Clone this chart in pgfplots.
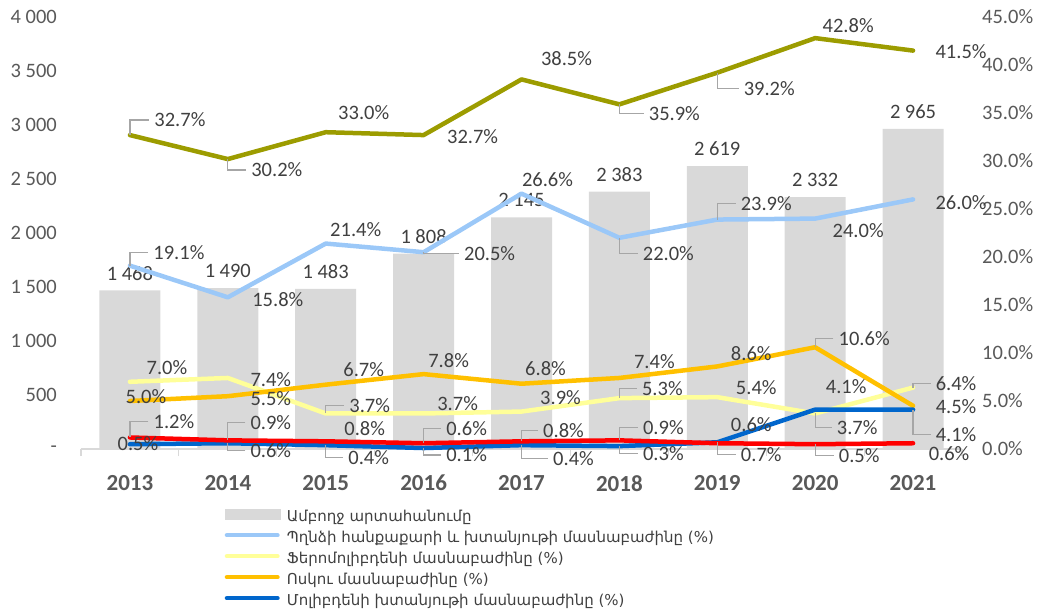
\documentclass[border=0pt]{standalone}
\usepackage{pgfplots}
\pgfplotsset{compat=1.18}
\usepackage{pgfplotstable}
\usepackage{fontspec}
\setmainfont{Carlito}
\newfontfamily\armfont{DejaVu Sans}

\definecolor{bargray}{HTML}{D9D9D9}
\definecolor{cOlive}{HTML}{9C9C00}
\definecolor{cLB}{HTML}{9BC8F8}
\definecolor{cYel}{HTML}{FFFF99}
\definecolor{cOra}{HTML}{FFC000}
\definecolor{cBlue}{HTML}{0066CC}
\definecolor{cRed}{HTML}{FF0000}
\definecolor{lbltext}{HTML}{404040}
\definecolor{tickgray}{HTML}{595959}
\definecolor{axgray}{HTML}{D9D9D9}
\definecolor{leadgray}{HTML}{A6A6A6}

\pgfplotstableread{
x y
0 1468
1 1490
2 1483
3 1808
4 2145
5 2383
6 2619
7 2332
8 2965
}\tBar

\pgfplotstableread{
x y dx dy ld
0 32.7 50 15 1
1 30.2 49 -11 1
2 33.0 38 20 0
3 32.7 49 -2 0
4 38.5 45 21 0
5 35.9 55 -9 1
6 39.2 52 -16 1
7 42.8 33 13 0
8 41.5 48 -1 0
}\tOlive

\pgfplotstableread{
x y dx dy ld
0 19.1 49 13 1
1 15.8 50 -2 0
2 21.4 30 14 0
3 20.5 66 -1 1
4 26.6 26 14 0
5 22.0 49 -16 1
6 23.9 49 16 1
7 24.0 43 -12 0
8 26.0 48 -3 0
}\tLB

\pgfplotstableread{
x y dx dy ld
0 7.0 37 14 0
1 7.4 43 -2 0
2 3.7 44 8 1
3 3.7 34 10 0
4 3.9 39 14 0
5 5.3 43 10 1
6 5.4 39 10 0
7 3.7 42 -14 1
8 6.4 43 4 1
}\tYel

\pgfplotstableread{
x y dx dy ld
0 5.0 16 4 0
1 5.5 43 -2 0
2 6.7 38 15 0
3 7.8 25 14 0
4 6.8 24 15 0
5 7.4 35 16 0
6 8.6 34 13 0
7 10.6 49 9 1
8 4.5 43 -1 0
}\tOra

\pgfplotstableread{
x y dx dy ld
0 0.5 8 1 0
1 0.6 43 -7 1
2 0.4 43 -12 1
3 0.1 43 -7 1
4 0.4 52 -13 1
5 0.3 44 -7 1
6 0.7 44 -12 1
7 4.1 31 23 0
8 4.1 43 -25 1
}\tBlue

\pgfplotstableread{
x y dx dy ld
0 1.2 44 16 1
1 0.9 43 18 1
2 0.8 39 13 0
3 0.6 43 15 1
4 0.8 42 11 1
5 0.9 44 13 1
6 0.6 34 19 0
7 0.5 44 -11 1
8 0.6 36 -10 0
}\tRed

\newcommand\lblfont{\fontsize{20.5}{21}\selectfont}

\tikzset{
  leadr/.code={%
    \edef\lbltmp{\noexpand\tikzset{append after command={([xshift=-5pt]\noexpand\tikzlastnode.west) edge[draw=leadgray, line width=1.2pt, draw opacity=\lblLD, to path={-| (\noexpand\tikztotarget)}] ([xshift={-1*(\lblDX)*1pt}, yshift={-1*(\lblDY)*1pt}]\noexpand\tikzlastnode.center)}}}%
    \lbltmp},
}

\pgfplotsset{
  /pgf/number format/assume math mode=true,
  ser/.style={line width=4.5pt, line join=round, line cap=round, mark=none},
  lbl/.style={draw=none, forget plot, mark=none,
    visualization depends on={\thisrow{dx}\as\lblDX},
    visualization depends on={\thisrow{dy}\as\lblDY},
    visualization depends on={\thisrow{ld}\as\lblLD},
    point meta=\thisrow{y},
    nodes near coords={\pgfmathprintnumber[fixed,fixed zerofill,precision=1]{\pgfplotspointmeta}\%},
    every node near coord/.append style={anchor=center, inner sep=0pt, font=\lblfont, text=lbltext,
      xshift={(\lblDX)*1pt}, yshift={(\lblDY)*1pt}, leadr},
  },
}

\begin{document}
\begin{tikzpicture}
\useasboundingbox (0,0) rectangle (1038pt,613pt);

\begin{axis}[
  at={(81pt,164pt)}, anchor=south west, scale only axis,
  width=881pt, height=432pt,
  xmin=-0.5, xmax=8.5, ymin=0, ymax=4000,
  axis x line*=bottom, axis y line*=left,
  y axis line style={draw=none},
  x axis line style={draw=axgray, line width=1.2pt},
  xtick={0,...,8},
  xticklabels={2013,2014,2015,2016,2017,2018,2019,2020,2021},
  minor xtick={-0.5,0.5,...,8.5},
  major tick length=0pt, minor tick length=7pt, tick align=outside,
  major x tick style={draw=none},
  minor x tick style={draw=axgray, line width=1.2pt},
  ytick={0,500,...,4000},
  yticklabels={-\hspace{10pt},500,1 000,1 500,2 000,2 500,3 000,3 500,4 000},
  ytick style={draw=none},
  yticklabel style={font=\lblfont, text=tickgray, inner xsep=0pt, xshift=-24pt},
  xticklabel style={font=\fontsize{23}{23}\selectfont\bfseries, text=tickgray, inner ysep=0pt, yshift=-26pt},
  clip=false,
]
\addplot[ybar, bar width=61pt, fill=bargray, draw=none,
  nodes near coords={\pgfmathprintnumber[1000 sep={\hspace{0.22em}}]{\pgfplotspointmeta}},
  point meta=y,
  every node near coord/.append style={anchor=south, inner sep=0pt, yshift=10pt, font=\lblfont, text=lbltext}]
  table[x=x,y=y]{\tBar};
\end{axis}

\begin{axis}[
  at={(81pt,164pt)}, anchor=south west, scale only axis,
  width=881pt, height=432pt,
  xmin=-0.5, xmax=8.5, ymin=0, ymax=45,
  axis y line*=right, axis x line=none,
  y axis line style={draw=none}, ytick style={draw=none},
  ytick={0,5,...,45},
  yticklabel={\pgfmathprintnumber[fixed,fixed zerofill,precision=1]{\tick}\%},
  yticklabel style={font=\lblfont, text=tickgray, inner xsep=0pt, xshift=20pt},
  clip=false,
  legend cell align=left,
  legend image code/.code={\draw[#1] (0pt,4pt) -- (50.5pt,4pt);},
  legend style={at={(0.1629,-0.1389)}, anchor=north west, draw=none, fill=none,
    inner sep=0pt, outer sep=0pt, row sep=6pt, column sep=0pt,
    font=\armfont\fontsize{15}{15}\selectfont, text=lbltext,
    nodes={inner xsep=7pt, inner ysep=0pt, text height=11pt, text depth=4pt}},
]
\addlegendimage{legend image code/.code={\fill[bargray] (-2.25pt,-1pt) rectangle (52.75pt,9pt);}}
\addlegendentry{Ամբողջ արտահանումը}
\addplot[ser, color=cLB] table[x=x,y=y]{\tLB};
\addlegendentry{Պղնձի հանքաքարի և խտանյութի մասնաբաժինը (\%)}
\addplot[ser, color=cYel] table[x=x,y=y]{\tYel};
\addlegendentry{Ֆերոմոլիբդենի մասնաբաժինը (\%)}
\addplot[ser, color=cOra] table[x=x,y=y]{\tOra};
\addlegendentry{Ոսկու մասնաբաժինը (\%)}
\addplot[ser, color=cBlue] table[x=x,y=y]{\tBlue};
\addlegendentry{Մոլիբդենի խտանյութի մասնաբաժինը (\%)}
\addplot[ser, color=cRed, forget plot] table[x=x,y=y]{\tRed};
\addplot[ser, color=cOlive, forget plot] table[x=x,y=y]{\tOlive};

\addplot[lbl] table[x=x,y=y]{\tLB};
\addplot[lbl] table[x=x,y=y]{\tYel};
\addplot[lbl] table[x=x,y=y]{\tOra};
\addplot[lbl] table[x=x,y=y]{\tBlue};
\addplot[lbl] table[x=x,y=y]{\tRed};
\addplot[lbl] table[x=x,y=y]{\tOlive};
\end{axis}
\end{tikzpicture}
\end{document}
